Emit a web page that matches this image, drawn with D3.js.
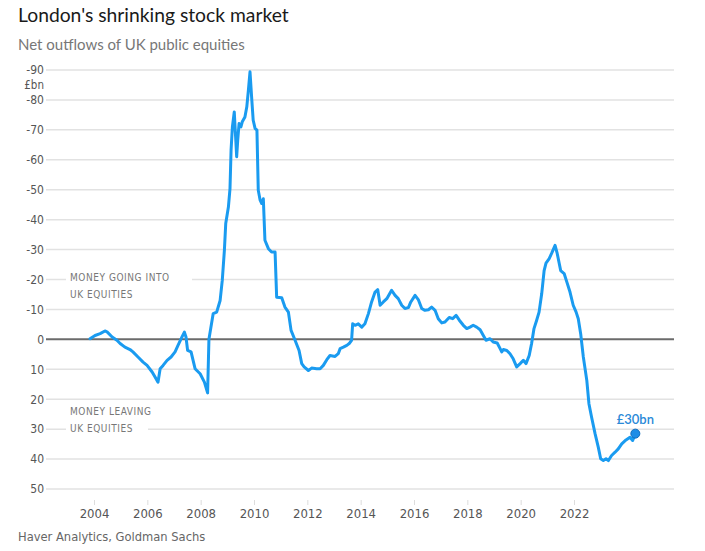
<!DOCTYPE html>
<html>
<head>
<meta charset="utf-8">
<script src="https://cdn.jsdelivr.net/npm/d3@7"></script>
<style>
  html, body { margin: 0; padding: 0; background: #fff; }
  svg { display: block; }
</style>
</head>
<body>
<svg id="chart" width="705" height="551"></svg>
<script>
// ---- Data ----
const title = "London's shrinking stock market";
const subtitle = "Net outflows of UK public equities";
const source = "Haver Analytics, Goldman Sachs";
const unitLabel = "£bn";
const yTicks = [-90, -80, -70, -60, -50, -40, -30, -20, -10, 0, 10, 20, 30, 40, 50];
const xTicks = [2004, 2006, 2008, 2010, 2012, 2014, 2016, 2018, 2020, 2022];
const endLabel = "£30bn";

// time as decimal years
const dates = [
  2003.85, 2004.04, 2004.23, 2004.41, 2004.49, 2004.68, 2004.86, 2004.98, 2005.16, 2005.35,
  2005.46, 2005.65, 2005.84, 2005.99, 2006.18, 2006.29, 2006.40, 2006.48, 2006.59, 2006.74,
  2006.89, 2007.04, 2007.15, 2007.30, 2007.39, 2007.45, 2007.51, 2007.64, 2007.79, 2007.98,
  2008.14, 2008.26, 2008.31, 2008.47, 2008.60, 2008.73, 2008.81, 2008.89, 2008.94, 2009.04,
  2009.10, 2009.14, 2009.19, 2009.26, 2009.31, 2009.35, 2009.39, 2009.44, 2009.51, 2009.56,
  2009.66, 2009.73, 2009.79, 2009.85, 2009.91, 2009.97, 2010.04, 2010.11, 2010.16, 2010.23,
  2010.29, 2010.35, 2010.41, 2010.54, 2010.66, 2010.79, 2010.85, 2011.04, 2011.16, 2011.29,
  2011.39, 2011.54, 2011.69, 2011.79, 2011.88, 2012.04, 2012.16, 2012.35, 2012.48, 2012.60,
  2012.73, 2012.85, 2013.04, 2013.16, 2013.23, 2013.35, 2013.48, 2013.57, 2013.66, 2013.70,
  2013.79, 2013.91, 2014.04, 2014.16, 2014.29, 2014.41, 2014.54, 2014.64, 2014.73, 2014.85,
  2014.98, 2015.16, 2015.29, 2015.41, 2015.54, 2015.66, 2015.79, 2015.88, 2016.04, 2016.16,
  2016.29, 2016.41, 2016.54, 2016.66, 2016.79, 2016.91, 2017.04, 2017.16, 2017.32, 2017.45,
  2017.58, 2017.70, 2017.85, 2017.98, 2018.10, 2018.22, 2018.35, 2018.48, 2018.60, 2018.70,
  2018.85, 2018.97, 2019.12, 2019.23, 2019.29, 2019.35, 2019.48, 2019.60, 2019.72, 2019.85,
  2019.98, 2020.10, 2020.20, 2020.32, 2020.41, 2020.50, 2020.60, 2020.69, 2020.79, 2020.88,
  2020.95, 2021.07, 2021.16, 2021.29, 2021.37, 2021.50, 2021.63, 2021.73, 2021.85, 2021.97,
  2022.08, 2022.16, 2022.25, 2022.35, 2022.48, 2022.56, 2022.66, 2022.79, 2022.91, 2023.00,
  2023.10, 2023.20, 2023.29, 2023.41, 2023.54, 2023.66, 2023.79, 2023.95, 2024.10, 2024.20,
  2024.30
];
// net outflows, £bn (negative = money going into UK equities)
const outflows = [
  -0.2, -1.3, -1.9, -2.8, -2.5, -0.8, 0.3, 1.4, 2.6, 3.4,
  4.2, 5.9, 7.6, 8.7, 10.9, 12.6, 14.3, 9.8, 8.7, 7.0,
  5.9, 4.2, 2.0, -0.8, -2.4, -0.8, 3.7, 4.2, 9.8, 11.5,
  14.3, 17.9, 0.0, -8.6, -9.1, -13.0, -19.7, -29.8, -38.7, -44.2,
  -50.4, -63.2, -71.0, -76.0, -67.7, -61.0, -66.6, -72.1, -71.0, -72.7,
  -74.3, -77.7, -83.3, -89.4, -81.0, -73.2, -70.5, -69.9, -49.8, -46.5,
  -45.4, -47.0, -33.1, -30.3, -29.2, -29.2, -14.1, -13.9, -10.8, -9.1,
  -3.0, 0.3, 3.7, 8.1, 9.2, 10.4, 9.6, 9.8, 9.8, 8.7,
  6.8, 5.4, 5.7, 4.8, 3.1, 2.6, 2.0, 1.4, 0.3, -5.2,
  -4.7, -5.2, -4.1, -5.2, -8.6, -12.5, -15.8, -16.6, -11.4, -12.5,
  -13.6, -16.4, -14.7, -13.6, -11.4, -10.3, -10.6, -12.5, -14.7, -13.3,
  -10.3, -9.7, -9.9, -10.8, -9.7, -6.9, -5.5, -5.8, -7.3, -6.9,
  -8.0, -6.4, -4.7, -3.6, -4.1, -4.7, -4.1, -3.2, -1.3, 0.3,
  -0.2, 0.9, 1.2, 3.1, 4.2, 3.4, 3.7, 4.8, 6.5, 9.2,
  8.1, 7.0, 8.1, 5.4, 1.4, -3.6, -6.4, -9.1, -15.3, -23.0,
  -25.5, -27.0, -28.7, -31.4, -28.7, -23.0, -22.0, -19.2, -15.8, -11.4,
  -9.1, -6.9, -1.9, 5.9, 13.7, 21.5, 26.0, 31.5, 36.0, 39.9,
  40.5, 39.9, 40.5, 38.8, 37.7, 36.6, 34.9, 33.6, 32.7, 33.8,
  31.5
];

// ---- Drawing ----
const svg = d3.select("#chart");
const condensed = "'Liberation Sans Narrow', 'DejaVu Sans Condensed', 'Roboto Condensed', sans-serif";
const sans = "Lato, 'Noto Sans', 'Open Sans', sans-serif";

const x = d3.scaleLinear().domain([2004, 2022]).range([94, 574]);
const y = d3.scaleLinear().domain([-90, 50]).range([70, 489]);
const gridLeft = 46, gridRight = 674;

// title & subtitle
svg.append("text").attr("x", 18).attr("y", 22)
  .attr("font-family", sans).attr("font-size", 19.3).attr("fill", "#1a1a1a")
  .text(title);
svg.append("text").attr("x", 18).attr("y", 50)
  .attr("font-family", sans).attr("font-size", 15).attr("fill", "#777")
  .text(subtitle);

// y gridlines + labels
const yAxis = d3.axisLeft(y).tickValues(yTicks).tickSize(0).tickPadding(0)
  .tickFormat(d => String(d));
const gy = svg.append("g").attr("transform", `translate(${gridLeft - 2},0)`).call(yAxis);
gy.select(".domain").remove();
gy.selectAll("text").attr("font-family", condensed).attr("font-size", 12).attr("fill", "#555");

svg.append("g").selectAll("line").data(yTicks.filter(d => d !== 0)).join("line")
  .attr("x1", gridLeft).attr("x2", gridRight)
  .attr("y1", d => y(d)).attr("y2", d => y(d))
  .attr("stroke", "#e2e2e2").attr("stroke-width", 1.5);

svg.append("text").attr("x", gridLeft - 2).attr("y", 88.5).attr("text-anchor", "end")
  .attr("font-family", condensed).attr("font-size", 11.5).attr("fill", "#555")
  .text(unitLabel);

// annotation boxes (white background masking gridlines)
const annGroups = [
  { lines: ["MONEY GOING INTO", "UK EQUITIES"], y0: 277, rect: [66, 270, 126, 32] },
  { lines: ["MONEY LEAVING", "UK EQUITIES"], y0: 411, rect: [66, 403, 82, 34] }
];
annGroups.forEach(a => {
  svg.append("rect").attr("x", a.rect[0]).attr("y", a.rect[1])
    .attr("width", a.rect[2]).attr("height", a.rect[3]).attr("fill", "#fff");
  a.lines.forEach((t, i) => {
    svg.append("text").attr("x", 70).attr("y", a.y0 + i * 17)
      .attr("dy", "0.35em")
      .attr("font-family", condensed).attr("font-size", 10)
      .attr("letter-spacing", 0.55).attr("fill", "#777")
      .text(t);
  });
});

// zero line
svg.append("line").attr("x1", gridLeft).attr("x2", gridRight)
  .attr("y1", y(0)).attr("y2", y(0))
  .attr("stroke", "#6b6b6b").attr("stroke-width", 2);

// x axis
const xAxis = d3.axisBottom(x).tickValues(xTicks).tickSize(5).tickPadding(4)
  .tickFormat(d3.format("d"));
const gx = svg.append("g").attr("transform", "translate(0,500)").call(xAxis);
gx.select(".domain").remove();
gx.selectAll("line").attr("stroke", "#ddd");
gx.selectAll("text").attr("font-family", condensed).attr("font-size", 13).attr("fill", "#555");

// line
const series = dates.map((d, i) => ({ t: d, v: outflows[i] }));
const line = d3.line().x(d => x(d.t)).y(d => y(d.v)).curve(d3.curveLinear);
svg.append("path").datum(series)
  .attr("d", line).attr("fill", "none")
  .attr("stroke", "#1a9bf0").attr("stroke-width", 3)
  .attr("stroke-linejoin", "round").attr("stroke-linecap", "round");

// end point + label
const last = series[series.length - 1];
svg.append("circle").attr("cx", x(last.t)).attr("cy", y(last.v)).attr("r", 4.5)
  .attr("fill", "#1e8de6").attr("stroke", "#0f6cbd").attr("stroke-width", 1);
svg.append("text").attr("x", x(last.t)).attr("y", y(last.v) - 10)
  .attr("text-anchor", "middle")
  .attr("font-family", sans).attr("font-size", 13).attr("font-weight", 600)
  .attr("fill", "#2a8ad8")
  .text(endLabel);

// source
svg.append("text").attr("x", 18).attr("y", 541)
  .attr("font-family", condensed).attr("font-size", 12.8).attr("fill", "#666")
  .text(source);
</script>
</body>
</html>
